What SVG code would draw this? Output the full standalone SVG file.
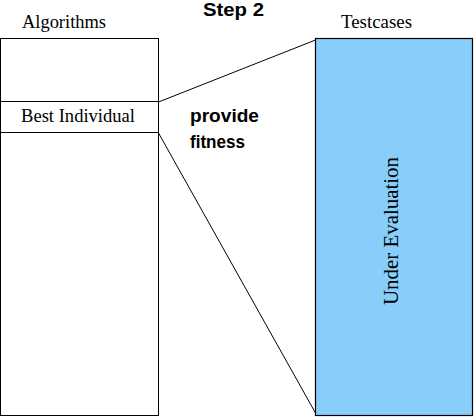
<svg xmlns="http://www.w3.org/2000/svg" width="474" height="417" viewBox="0 0 474 417">
<style>
.box{fill:#ffffff;stroke:#000000;stroke-width:1}
.blue{fill:#87CEFA;stroke:#000000;stroke-width:1.2}
.lbl{font-family:"Liberation Serif","Times New Roman",serif;font-size:18px;fill:#000}
.bold{font-family:"Liberation Sans",Arial,sans-serif;font-weight:bold;font-size:18px;fill:#000}
.conn{stroke:#000;stroke-width:1;fill:none}
</style>
<rect width="474" height="417" fill="#ffffff"/>
<text class="bold" x="203" y="16" textLength="61" lengthAdjust="spacingAndGlyphs">Step 2</text>
<g id="algorithms">
<rect class="box" x="0.5" y="38.5" width="158" height="377"/>
<text class="lbl" x="22" y="28" textLength="84" lengthAdjust="spacingAndGlyphs">Algorithms</text>
</g>
<g id="best-individual">
<rect class="box" x="0.5" y="101.5" width="158" height="31"/>
<text class="lbl" x="21" y="122" textLength="114" lengthAdjust="spacingAndGlyphs">Best Individual</text>
</g>
<g id="testcases">
<rect class="blue" x="315.5" y="38.5" width="157" height="377"/>
<text class="lbl" x="341" y="28" textLength="71" lengthAdjust="spacingAndGlyphs">Testcases</text>
<text class="lbl" transform="translate(398,305) rotate(-90)" x="0" y="0" textLength="148" lengthAdjust="spacingAndGlyphs" style="font-size:21px">Under Evaluation</text>
</g>
<g id="connectors">
<line class="conn" x1="158.5" y1="102" x2="315.5" y2="40"/>
<line class="conn" x1="158.5" y1="133" x2="315.5" y2="413"/>
<text class="bold" x="190" y="122" textLength="69" lengthAdjust="spacingAndGlyphs">provide</text>
<text class="bold" x="190" y="148" textLength="55" lengthAdjust="spacingAndGlyphs">fitness</text>
</g>
</svg>
